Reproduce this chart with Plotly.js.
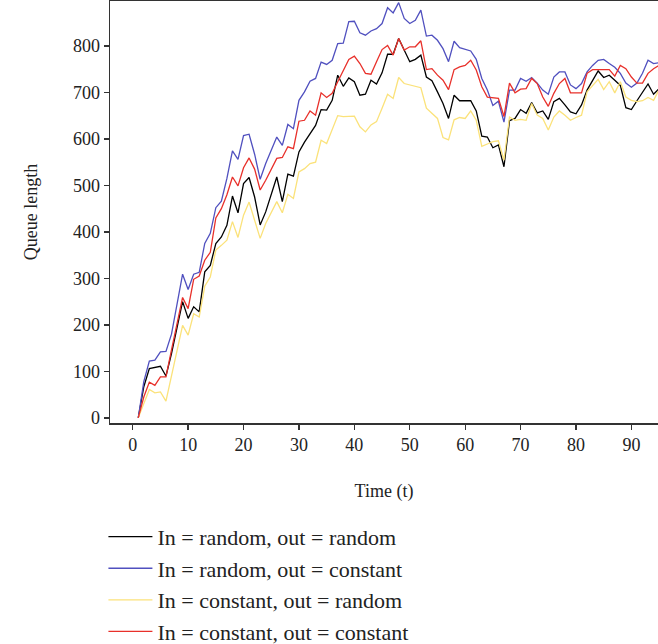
<!DOCTYPE html>
<html>
<head>
<meta charset="utf-8">
<script src="https://cdn.plot.ly/plotly-3.0.1.min.js"></script>
<style>html,body{margin:0;padding:0;overflow:hidden;background:#fff;}</style>
</head>
<body>
<div id="chart" style="width:658px;height:644px;"></div>
<script>
const time = Array.from({length: 95}, (_, i) => i + 1);

const seriesNames = [
  "In = random, out = random",
  "In = random, out = constant",
  "In = constant, out = random",
  "In = constant, out = constant"
];

const randRand = [0,67,106,108,111,90,138,194,250,214,239,228,314,328,375,389,414,477,441,504,
  517,475,415,443,482,518,465,524,520,572,593,611,629,663,662,683,737,713,731,723,
  694,696,726,718,742,782,782,816,791,766,771,780,733,725,701,676,644,694,682,682,
  682,660,606,604,581,587,540,639,644,663,655,678,656,660,642,680,687,673,658,654,
  673,705,726,746,732,737,726,715,667,663,682,701,718,696,708];

const randConst = [0,78,122,124,142,143,180,242,309,276,309,313,375,397,452,466,515,574,556,607,
  610,567,513,547,576,604,586,631,622,683,701,724,730,765,760,769,805,806,852,853,
  828,823,832,837,848,882,871,893,859,848,855,877,821,823,812,794,766,810,796,793,
  789,771,730,705,672,681,636,705,705,730,724,732,720,705,696,733,744,744,716,708,
  719,744,758,769,771,762,754,741,720,711,720,741,769,762,764];

const constRand = [0,31,61,54,56,36,91,147,199,178,224,217,283,303,361,371,382,422,388,436,
  464,425,386,418,443,465,441,481,472,529,536,547,550,597,590,619,650,648,649,649,
  626,615,630,637,666,696,687,732,719,716,713,710,666,655,644,603,598,641,646,644,
  660,640,584,589,594,596,554,647,640,642,640,676,651,644,619,647,660,651,640,646,
  651,701,715,728,706,723,699,723,690,683,680,682,689,683,706];

const constConst = [0,45,77,70,88,88,146,204,259,235,298,305,339,356,430,450,480,518,499,538,
  559,535,490,511,535,558,560,583,579,638,640,660,651,699,689,698,723,748,771,778,
  762,741,739,766,792,801,780,816,791,798,798,811,749,751,737,726,706,749,755,758,
  769,748,712,690,689,687,648,720,699,707,708,730,719,690,670,698,719,730,699,699,
  699,741,749,749,749,749,735,758,751,733,720,720,741,751,758];

const xTicks = [0,10,20,30,40,50,60,70,80,90];
const yTicks = [0,100,200,300,400,500,600,700,800];

const allSeries = [randRand, randConst, constRand, constConst];
const colors = ["#000000", "#5050bf", "#fbe27a", "#e8302a"];

const traces = allSeries.map((ys, i) => ({
  x: time, y: ys, type: "scatter", mode: "lines",
  name: seriesNames[i], legendgroup: "g" + i,
  line: {color: colors[i], width: 1.3}
}));

const fontFam = "Liberation Serif, Times New Roman, serif";

const layout = {
  width: 658, height: 644,
  margin: {l: 110, r: 0, t: 1, b: 221, autoexpand: false},
  paper_bgcolor: "#fff", plot_bgcolor: "#fff",
  font: {family: fontFam, size: 18, color: "#222"},
  showlegend: true,
  legend: {
    x: -0.012, xanchor: "left", y: -0.22, yanchor: "top",
    font: {family: fontFam, size: 22, color: "#222"},
    tracegroupgap: 3, traceorder: "normal", itemwidth: 44
  },
  xaxis: {
    range: [-4.1, 94.8], tickvals: xTicks, ticktext: xTicks.map(String),
    showgrid: false, zeroline: false, showline: true, mirror: true,
    linecolor: "#333", linewidth: 1.5, ticks: "outside", ticklen: 5, tickwidth: 1.3, tickcolor: "#333",
    title: {text: "Time (t)", font: {family: fontFam, size: 18, color: "#222"}, standoff: 30}
  },
  yaxis: {
    range: [-11, 896.5], tickvals: yTicks, ticktext: yTicks.map(String),
    showgrid: false, zeroline: false, showline: true, mirror: false,
    linecolor: "#333", linewidth: 1.5, ticks: "outside", ticklen: 5, tickwidth: 1.3, tickcolor: "#333",
    title: {text: "Queue length", font: {family: fontFam, size: 18, color: "#222"}, standoff: 30}
  }
};

Plotly.newPlot("chart", traces, layout, {displayModeBar: false, staticPlot: true});
</script>
</body>
</html>
